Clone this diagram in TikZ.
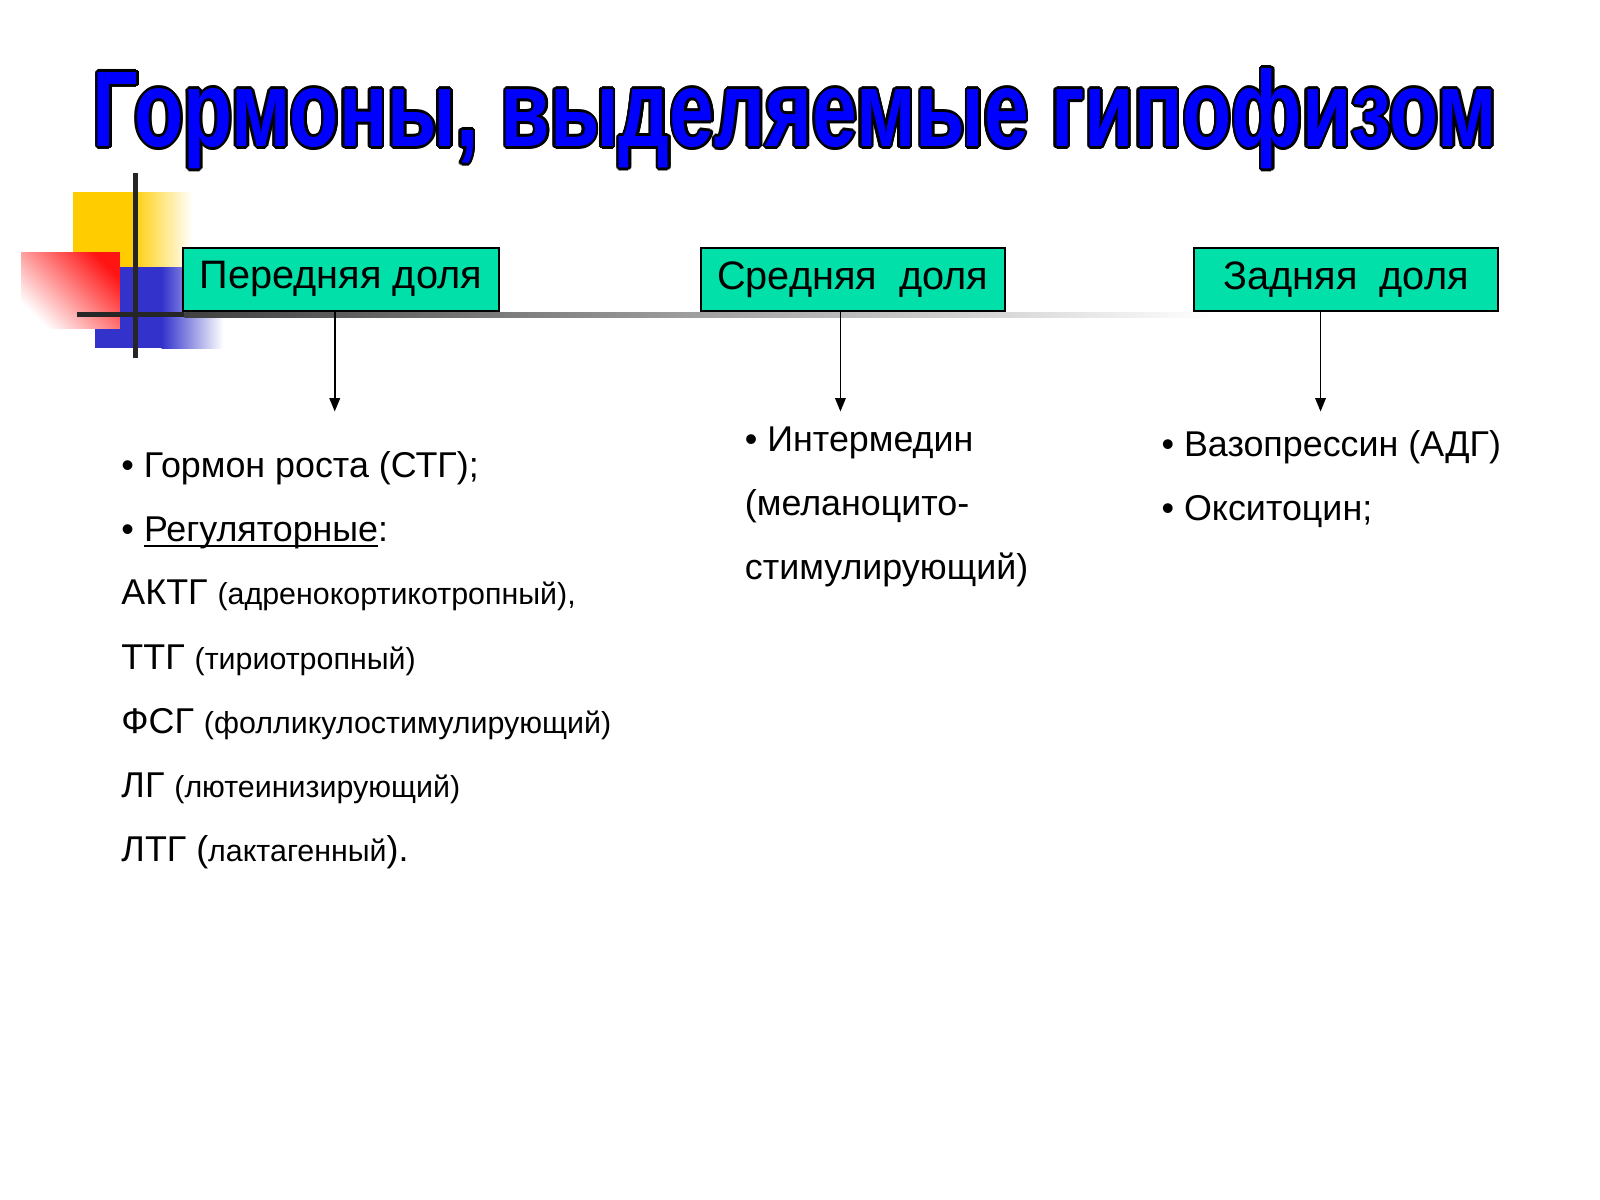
\documentclass[tikz,border=0pt]{standalone}
\usepackage{fontspec}
\setmainfont{Liberation Sans}
\usetikzlibrary{arrows.meta}
\definecolor{lobegreen}{RGB}{0,224,168}
\definecolor{titleblue}{RGB}{0,0,255}
\definecolor{decoyellow}{RGB}{255,204,0}
\definecolor{decoblue}{RGB}{51,51,204}
\definecolor{decored}{RGB}{255,20,20}
\newcommand{\bigfs}  {\fontsize{10.2}{12}\selectfont}
\newcommand{\boxfs}  {\fontsize{11.3}{13}\selectfont}
\newcommand{\smallfs}{\fontsize{8.65}{10}\selectfont}
\newcommand{\ttl}    {\resizebox{14.04cm}{0.78cm}{\bfseries Гормоны, выделяемые гипофизом}}
\newcommand{\uline}[1]{\setbox0\hbox{#1}\rlap{\rule[-1.7pt]{\wd0}{0.6pt}}#1}
\tikzset{
  lobe/.style={draw=black,line width=0.6pt,fill=lobegreen,minimum width=3.04cm,
    minimum height=0.635cm,inner sep=0pt,font=\boxfs},
  item/.style={anchor=base west,inner sep=0pt,font=\bigfs}
}

\begin{document}
\begin{tikzpicture}[x=0.010235cm,y=-0.010235cm]
   \useasboundingbox[fill=white] (0,0) rectangle (1563,1172);
   % title with black outline
   \foreach \a in {0,30,...,330} {
    \node[anchor=base west,inner sep=0pt,text=black,xshift={0.75pt*cos(\a)},yshift={0.75pt*sin(\a)}] at (90,143) {\ttl};
   }
   \node[anchor=base west,inner sep=0pt,text=titleblue] (title) at (90,143) {\ttl};
   % corner decoration
   \fill[decoyellow] (71,188) rectangle (128,262);
   \shade[left color=decoyellow,right color=white] (128,188) rectangle (188,262);
   \fill[decoblue] (93,261) rectangle (158,340);
   \shade[left color=decoblue,right color=white] (158,261) rectangle (218,340);
   \shade[left color=decored,right color=white,shading angle=-45] (21,247) rectangle (117,321);
   \fill[black!85] (130,169) rectangle (135,350);
   \fill[black!85] (75,305) rectangle (180,310);
   \shade[left color=black!75,right color=white] (180,305) rectangle (1185,310);
   % lobes
   \node[lobe,minimum width=3.16cm] (pered) at (333,273) {Передняя доля};
   \node[lobe] (sred)  at (833,273) {Средняя\ \ доля};
   \node[lobe] (zad)   at (1315,273) {Задняя\ \ доля};
   \coordinate (pend) at (327,402);
   \coordinate (send) at (821,402);
   \coordinate (zend) at (1290,402);
   \draw[line width=0.45pt,-{Triangle[width=3pt,length=3.8pt]}] (pered.south -| pend) -- (pend);
   \draw[line width=0.45pt,-{Triangle[width=3pt,length=3.8pt]}] (sred.south -| send) -- (send);
   \draw[line width=0.45pt,-{Triangle[width=3pt,length=3.8pt]}] (zad.south -| zend) -- (zend);
   % anterior lobe hormones
   \node[item] (stg) at (118,466) {• Гормон роста (СТГ);};
   \node[item] (reg) at (118,529) {• \uline{Регуляторные}:};
   \node[item] (aktg) at (118,591) {АКТГ {\smallfs (адренокортикотропный),}};
   \node[item] (ttg)  at (118,654) {ТТГ {\smallfs (тириотропный)}};
   \node[item] (fsg)  at (118,717) {ФСГ {\smallfs (фолликулостимулирующий)}};
   \node[item] (lg)   at (118,779) {ЛГ {\smallfs (лютеинизирующий)}};
   \node[item] (ltg)  at (118,842) {ЛТГ ({\smallfs лактагенный}).};
   % intermediate lobe
   \node[item] (interm) at (727,441) {• Интермедин};
   \node[item] (melan)  at (727,504) {(меланоцито-};
   \node[item] (stim)   at (727,566) {стимулирующий)};
   % posterior lobe
   \node[item] (vazo) at (1134,446) {• Вазопрессин (АДГ)};
   \node[item] (oksi) at (1134,508) {• Окситоцин;};
  \end{tikzpicture}
\end{document}
